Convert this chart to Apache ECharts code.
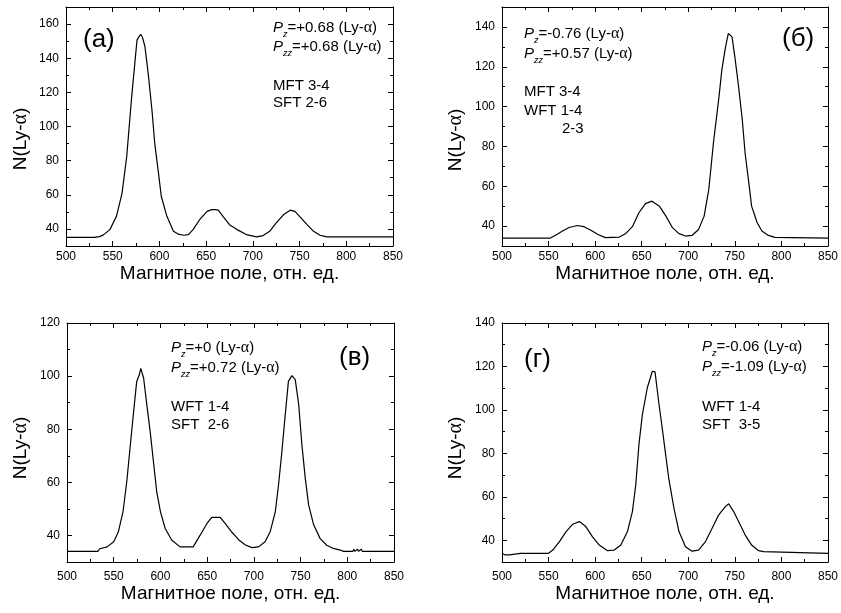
<!DOCTYPE html>
<html><head><meta charset="utf-8">
<script src="https://cdn.jsdelivr.net/npm/echarts@6/dist/echarts.min.js"></script>
<style>html,body{margin:0;padding:0;background:#fff}#c{width:841px;height:613px}</style>
</head><body><div id="c"></div>
<script>
// ---- data ----
const xA=[500,530,536,540,547,554,560,565,570,574,576,578,580,582,584.5,588,592,595,599,602,608,615,620,626,631,636,643,651,656,660,663,668,675,683,693,704,711,718,725,733,740,745,750,758,765,772,779,850];
const yA=[35,35,35.5,36.5,39.6,47.4,61,82.5,115.6,139,150.6,152.5,154,152,146.8,131,109.7,90,72.7,59,47.4,38.6,37,36.3,36.7,39.6,45.4,50.3,51.3,51.3,51,47.4,42.5,39.6,36.7,35.3,36.1,38.6,43.5,48.4,51,50.3,47.4,42.5,38.6,36.3,35.3,35.3];
const xB=[500,552,553,558,565,572,581,588,595,603,611,626,633,640,647,654,661,669,676,683,690,697,704,711,717,722,727,733,736,740,743,747,750,754,758,761,765,768,774,779,786,793,850];
const yB=[34,34,34.8,35.5,37.5,39.3,40.3,39.7,38,35.8,34.2,34.5,36.3,39.7,46.7,51.3,52.5,50,45,39.2,36.2,35,35.3,38.3,45,58.3,81.7,105,118.3,130,136.7,135,125,110,93.3,76.7,61.7,50,41.7,37.5,35.3,34.3,34];
const xC=[500,533,535,543,550,555,560,564,567.5,571,574.6,577.5,579,582,585,589,592.5,596,600,605,612,621,635,642.5,650,655,664,669,676,684,691,698,705,712,717.5,723,726.4,730,733.6,737,740.7,744.3,748,751.4,755,758.6,764,771,778,785,792.5,796,806,807,808,810,811,812,814,815,816,850];
const yC=[34,34,35,35.7,37.6,41.4,49,60.3,73,85.5,98,100.6,102.9,99.3,90.5,79.2,67.9,56.5,49,42.7,38.3,35.7,35.7,40.1,44.6,46.8,46.8,44.6,41.4,38.3,36.4,35.4,35.7,37.6,41.4,49,59,71.6,85.5,98,100.2,98.7,89.3,74.2,61.6,51.5,44,38.8,36.3,35.1,34.5,34,34,34.8,34,34,34.8,34,34,34.8,34,34];
const xD=[500,503,505,508,510,520,522,525,527,550,554.5,561.7,568.8,576,583,590,597,604.4,613.3,620.5,627.6,634.7,640,643.6,647,650.7,656,661.4,664.3,668.6,672,675.7,679,684.6,690,697,704,711,718.5,725.6,732.7,739.8,743.4,748.7,754,761,768,775.5,780.8,782.6,850];
const yD=[34,33.3,34,33.3,34,34,33.3,34,33.3,34,35.5,39.4,44,47.4,48.6,46.3,41.7,37.8,35.2,35.5,37.8,44,53.2,65.5,84,97.8,110.2,117.8,117.5,102.5,91.7,79.4,68.6,54.8,44,37,35,35.5,39.4,45.5,51.7,55.5,56.8,53.2,48.6,42.5,37.8,35.2,34.8,34,34];

const xRange=[500,850];
const yRangeA=[30,170], yMajorA=[40,60,80,100,120,140,160], yMinorA=[30,50,70,90,110,130,150,170];
const yRangeB=[30,150], yMajorB=[40,60,80,100,120,140], yMinorB=[30,50,70,90,110,130,150];
const yRangeC=[30,120], yMajorC=[40,60,80,100,120], yMinorC=[30,50,70,90,110];
const yRangeD=[30,140], yMajorD=[40,60,80,100,120,140], yMinorD=[30,50,70,90,110,130];

const panelLabels=['(а)','(б)','(в)','(г)'];
const pzTexts=['=+0.68','=-0.76','=+0','=-0.06'];
const pzzTexts=['=+0.68','=+0.57','=+0.72','=-1.09'];
const transTexts=['MFT 3-4\nSFT 2-6','MFT 3-4\nWFT 1-4','WFT 1-4\nSFT  2-6','WFT 1-4\nSFT  3-5'];
const xTitle='Магнитное поле, отн. ед.';

// ---- layout ----
const F='Liberation Sans, Arial, sans-serif';
const panels=[
  {x:xA,y:yA,r:yRangeA,maj:yMajorA,min:yMinorA,grid:{left:66,top:7,width:327,height:239},lm:5,ng:17},
  {x:xB,y:yB,r:yRangeB,maj:yMajorB,min:yMinorB,grid:{left:502,top:7,width:327,height:239},lm:5,ng:17},
  {x:xC,y:yC,r:yRangeC,maj:yMajorC,min:yMinorC,grid:{left:67,top:323,width:327,height:239},lm:9,ng:21},
  {x:xD,y:yD,r:yRangeD,maj:yMajorD,min:yMinorD,grid:{left:502,top:323,width:327,height:239},lm:9,ng:21}
];
const black={color:'#000',width:1};
const grids=[],xAxes=[],yAxes=[],series=[];
panels.forEach((p,i)=>{
  grids.push(Object.assign({containLabel:false},p.grid));
  const xb={gridIndex:i,type:'value',min:xRange[0],max:xRange[1],interval:50,
    axisLine:{show:true,onZero:false,lineStyle:black},
    axisTick:{show:true,inside:true,length:5,lineStyle:black},
    minorTick:{show:true,splitNumber:2,length:3,lineStyle:black},
    splitLine:{show:false},minorSplitLine:{show:false}};
  xAxes.push(Object.assign({},xb,{position:'bottom',
    axisLabel:{color:'#000',fontSize:12,fontFamily:F,margin:p.lm,showMinLabel:true,showMaxLabel:true},
    name:xTitle,nameLocation:'middle',nameGap:p.ng,nameTextStyle:{color:'#000',fontSize:19,fontFamily:F}}));
  xAxes.push(Object.assign({},xb,{position:'top',axisLabel:{show:false}}));
  const yb={gridIndex:i,type:'value',min:p.r[0],max:p.r[1],splitLine:{show:false}};
  yAxes.push(Object.assign({},yb,{position:'left',axisLine:{show:true,onZero:false,lineStyle:black},
    axisTick:{show:true,inside:true,length:5,lineStyle:black,customValues:p.maj},
    axisLabel:{show:true,color:'#000',fontSize:12,fontFamily:F,margin:7,customValues:p.maj}}));
  yAxes.push(Object.assign({},yb,{position:'left',axisLine:{show:false},
    axisTick:{show:true,inside:true,length:3,lineStyle:black,customValues:p.min},axisLabel:{show:false}}));
  yAxes.push(Object.assign({},yb,{position:'right',axisLine:{show:true,onZero:false,lineStyle:black},
    axisTick:{show:true,inside:true,length:5,lineStyle:black,customValues:p.maj},axisLabel:{show:false}}));
  yAxes.push(Object.assign({},yb,{position:'right',axisLine:{show:false},
    axisTick:{show:true,inside:true,length:3,lineStyle:black,customValues:p.min},axisLabel:{show:false}}));
  series.push({type:'line',xAxisIndex:2*i,yAxisIndex:4*i,showSymbol:false,symbol:'none',
    lineStyle:{color:'#000',width:1.2},data:p.x.map((v,k)=>[v,p.y[k]]),animation:false});
});

const rich={
  p:{fontSize:15,fontStyle:'italic',fontFamily:F,color:'#000'},
  s:{fontSize:9,fontStyle:'italic',fontFamily:F,color:'#000',padding:[12,0,0,0]},
  t:{fontSize:15,fontFamily:F,color:'#000'},
  a:{fontSize:16,fontFamily:'Liberation Serif, serif',color:'#000'}
};
function pText(sub,val){return '{p|P}{s|'+sub+'}{t|'+val+' (Ly-}{a|α}{t|)}';}
function txt(x,y,text,extra){
  return {type:'text',x:x,y:y,style:Object.assign({text:text,fill:'#000',font:'15px '+F,
    align:'left',textAlign:'left',verticalAlign:'middle',textVerticalAlign:'middle'},extra||{})};
}
const richTxt=(x,y,text)=>({type:'text',x:x,y:y,style:{text:text,rich:rich,fill:'#000',
  align:'left',textAlign:'left',verticalAlign:'middle',textVerticalAlign:'middle'}});
const yTitle=(x,y)=>({type:'text',x:x,y:y,rotation:Math.PI/2,style:{text:'{t|N(Ly-}{a|α}{t|)}',
  rich:{t:{fontSize:19,fontFamily:F,color:'#000'},a:{fontSize:20,fontFamily:'Liberation Serif, serif',color:'#000'}},
  align:'center',textAlign:'center',verticalAlign:'middle',textVerticalAlign:'middle'}});
const panelLbl=(x,y,t)=>txt(x,y,t,{font:'26px '+F});

const graphic=[
  yTitle(21,139), yTitle(456,140), yTitle(21,448), yTitle(456,448),
  panelLbl(83,40,panelLabels[0]), panelLbl(782,39,panelLabels[1]), panelLbl(339,358,panelLabels[2]), panelLbl(524,360,panelLabels[3]),
  richTxt(273,28,pText('z',pzTexts[0])), richTxt(273,47,pText('zz',pzzTexts[0])),
  txt(273,94.5,transTexts[0],{lineHeight:17}),
  richTxt(524,34,pText('z',pzTexts[1])), richTxt(524,54,pText('zz',pzzTexts[1])),
  txt(524,101.5,transTexts[1],{lineHeight:19}), txt(562,129,'2-3'),
  richTxt(171,348,pText('z',pzTexts[2])), richTxt(171,368,pText('zz',pzzTexts[2])),
  txt(171,416,transTexts[2],{lineHeight:18}),
  richTxt(702,347,pText('z',pzTexts[3])), richTxt(702,367,pText('zz',pzzTexts[3])),
  txt(702,416,transTexts[3],{lineHeight:18})
];

const chart=echarts.init(document.getElementById('c'),null,{renderer:'canvas'});
chart.setOption({animation:false,backgroundColor:'#fff',grid:grids,xAxis:xAxes,yAxis:yAxes,series:series,graphic:{elements:graphic}});
</script></body></html>
